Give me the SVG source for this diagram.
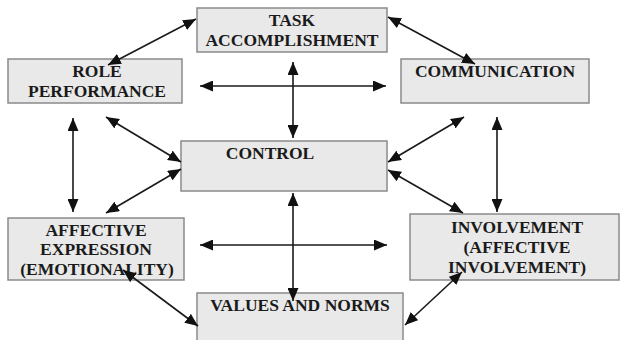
<svg xmlns="http://www.w3.org/2000/svg" width="620" height="340" viewBox="0 0 620 340">
<defs>
<style>
.box{fill:#e9e9e9;stroke:#8a8a8a;stroke-width:1.5}
.t{font-family:"Liberation Serif","Times New Roman",serif;font-weight:bold;font-size:17.5px;fill:#1a1a1a;text-anchor:middle}
.c{stroke:#1a1a1a;stroke-width:1.6;fill:none;marker-start:url(#ah);marker-end:url(#ah)}
</style>
<marker id="ah" viewBox="0 0 13 11" refX="13" refY="5.5" markerWidth="13" markerHeight="11" markerUnits="userSpaceOnUse" orient="auto-start-reverse">
<path d="M0,0 L13,5.5 L0,11 z" fill="#111"/>
</marker>
</defs>
<rect width="620" height="340" fill="#fff"/>
<g id="task">
<rect class="box" x="197" y="8" width="190" height="44"/>
<text class="t" x="292" y="26">TASK</text>
<text class="t" x="292" y="46">ACCOMPLISHMENT</text>
</g>
<g id="role">
<rect class="box" x="8" y="59" width="174" height="44"/>
<text class="t" x="97" y="77">ROLE</text>
<text class="t" x="97" y="97">PERFORMANCE</text>
</g>
<g id="communication">
<rect class="box" x="401" y="59" width="188" height="44"/>
<text class="t" x="495" y="77">COMMUNICATION</text>
</g>
<g id="control">
<rect class="box" x="181" y="141" width="206" height="50"/>
<text class="t" x="270" y="159">CONTROL</text>
</g>
<g id="affective">
<rect class="box" x="8" y="218" width="176" height="62"/>
<text class="t" x="96" y="236">AFFECTIVE</text>
<text class="t" x="96" y="255">EXPRESSION</text>
<text class="t" x="97" y="275">(EMOTIONALITY)</text>
</g>
<g id="involvement">
<rect class="box" x="410" y="214" width="209" height="66"/>
<text class="t" x="517" y="233">INVOLVEMENT</text>
<text class="t" x="517" y="253">(AFFECTIVE</text>
<text class="t" x="517" y="273">INVOLVEMENT)</text>
</g>
<g id="values">
<rect class="box" x="197" y="293" width="206" height="60"/>
<text class="t" x="300" y="311">VALUES AND NORMS</text>
</g>
<g id="connectors">
<line class="c" x1="108" y1="65" x2="196" y2="19"/>
<line class="c" x1="388" y1="17" x2="475" y2="64"/>
<line class="c" x1="200" y1="86" x2="386" y2="86"/>
<line class="c" x1="293" y1="62" x2="293" y2="138"/>
<line class="c" x1="106" y1="117" x2="181" y2="162"/>
<line class="c" x1="73" y1="118" x2="73" y2="212"/>
<line class="c" x1="464" y1="117" x2="388" y2="162"/>
<line class="c" x1="497" y1="117" x2="497" y2="212"/>
<line class="c" x1="106" y1="213" x2="181" y2="169"/>
<line class="c" x1="388" y1="170" x2="463" y2="213"/>
<line class="c" x1="200" y1="245" x2="387" y2="245"/>
<line class="c" x1="293" y1="193" x2="293" y2="301"/>
<line class="c" x1="123" y1="270" x2="198" y2="326"/>
<line class="c" x1="462" y1="272" x2="405" y2="325"/>
</g>
</svg>
